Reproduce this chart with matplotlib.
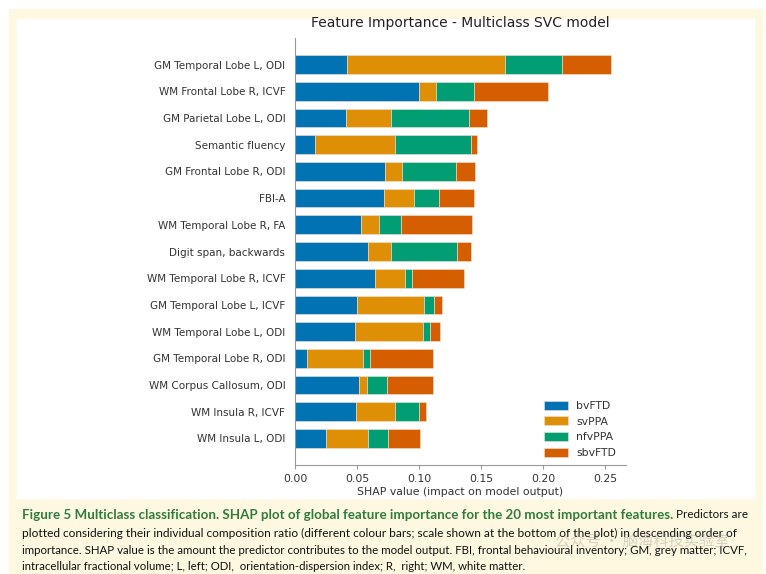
import matplotlib
matplotlib.use("Agg")
import matplotlib.pyplot as plt
from matplotlib.patches import Rectangle
import numpy as np

FEATURES = [
    "GM Temporal Lobe L, ODI",
    "WM Frontal Lobe R, ICVF",
    "GM Parietal Lobe L, ODI",
    "Semantic fluency",
    "GM Frontal Lobe R, ODI",
    "FBI-A",
    "WM Temporal Lobe R, FA",
    "Digit span, backwards",
    "WM Temporal Lobe R, ICVF",
    "GM Temporal Lobe L, ICVF",
    "WM Temporal Lobe L, ODI",
    "GM Temporal Lobe R, ODI",
    "WM Corpus Callosum, ODI",
    "WM Insula R, ICVF",
    "WM Insula L, ODI",
]
CLASSES = ["bvFTD", "svPPA", "nfvPPA", "sbvFTD"]
BVFTD = [0.042, 0.100, 0.0415, 0.016, 0.073, 0.072, 0.053, 0.0585, 0.0645, 0.050, 0.048, 0.010, 0.052, 0.049, 0.025]
SVPPA = [0.127, 0.014, 0.036, 0.065, 0.013, 0.024, 0.0145, 0.019, 0.024, 0.054, 0.055, 0.045, 0.0062, 0.032, 0.0337]
NFVPPA = [0.046, 0.030, 0.063, 0.061, 0.044, 0.0205, 0.018, 0.053, 0.0055, 0.008, 0.0062, 0.0057, 0.016, 0.0194, 0.0164]
SBVFTD = [0.040, 0.060, 0.0145, 0.005, 0.0155, 0.0275, 0.0575, 0.0115, 0.042, 0.0065, 0.0078, 0.051, 0.0375, 0.005, 0.0255]
COLORS = ["#0173b2", "#de8f05", "#029e73", "#d55e00"]
XTICKS = [0.00, 0.05, 0.10, 0.15, 0.20, 0.25]

CAPTION_BOLD = ("Figure 5 Multiclass classification. SHAP plot of global feature "
                "importance for the 20 most important features.")
CAPTION_LINES = [
    " Predictors are",
    "plotted considering their individual composition ratio (different colour bars; "
    "scale shown at the bottom of the plot) in descending order of",
    "importance. SHAP value is the amount the predictor contributes to the model output. "
    "FBI, frontal behavioural inventory; GM, grey matter; ICVF,",
    "intracellular fractional volume; L, left; ODI,  orientation-dispersion index; R,  "
    "right; WM, white matter.",
]
WATERMARK = "公众号 · 脑海科技实验室"

W, H = 766, 574
fig = plt.figure(figsize=(W / 100, H / 100), dpi=100)
fig.patch.set_facecolor("white")


def px_rect(x0, y0, x1, y1, color):
    fig.patches.append(Rectangle((x0 / W, 1 - y1 / H), (x1 - x0) / W, (y1 - y0) / H,
                                 transform=fig.transFigure, color=color, zorder=-10))


px_rect(9, 9, 762, 574, "#fff8e0")
px_rect(17, 19, 754, 498, "white")

ax = fig.add_axes([295 / W, 1 - 465 / H, (626 - 295) / W, (465 - 38) / H])
y = np.arange(len(FEATURES))[::-1]
left = np.zeros(len(FEATURES))
for name, vals, col in zip(CLASSES, [BVFTD, SVPPA, NFVPPA, SBVFTD], COLORS):
    ax.barh(y, vals, left=left, height=0.7, color=col, label=name,
            edgecolor="#f3e3d3", linewidth=0.4)
    left += np.array(vals)

ax.set_ylim(-1, len(FEATURES))
ax.set_xlim(0, 0.267)
ax.set_yticks(y)
ax.set_yticklabels(FEATURES, fontsize=7.5, color="#333333")
ax.set_xticks(XTICKS)
ax.set_xticklabels(["%.2f" % t for t in XTICKS], fontsize=7.8, color="#333333")
ax.tick_params(axis="y", length=0, pad=7)
ax.tick_params(axis="x", length=3, color="#999999", width=0.8)
for s in ["top", "right"]:
    ax.spines[s].set_visible(False)
for s in ["left", "bottom"]:
    ax.spines[s].set_color("#999999")
    ax.spines[s].set_linewidth(0.8)
ax.set_xlabel("SHAP value (impact on model output)", fontsize=7.8, color="#333333", labelpad=2)
ax.set_title("Feature Importance - Multiclass SVC model", fontsize=10, color="#222222", pad=8)
ax.legend(loc="lower right", bbox_to_anchor=(1.0, -0.006), frameon=False, fontsize=7.8,
          handlelength=2.2, handleheight=0.9, labelspacing=0.5, labelcolor="#333333")

# caption: each line is sized so that it ends where the reference line ends
fig.canvas.draw()
r = fig.canvas.get_renderer()
cap_font = ["Lato", "DejaVu Sans"]
x0 = 22


def fitted_text(x, yy, s, x_end, **kw):
    t = fig.text(x / W, 1 - yy / H, s, fontsize=9, family=cap_font, va="center", **kw)
    wd = t.get_window_extent(r).width
    t.set_fontsize(9 * (x_end - x) / wd)
    return t


t = fitted_text(x0, 515, CAPTION_BOLD, 668, fontweight="bold", color="#2e7d3e")
bx = t.get_window_extent(r).x1
fitted_text(bx, 515, CAPTION_LINES[0], 748, color="#111111")
fitted_text(x0, 533, CAPTION_LINES[1], 737, color="#111111")
fitted_text(x0, 550, CAPTION_LINES[2], 750, color="#111111")
fitted_text(x0, 567, CAPTION_LINES[3], 528, color="#111111")

fig.text(555 / W, 1 - 541 / H, WATERMARK, fontsize=11, color="#888888",
         alpha=0.35, family=["Noto Sans CJK SC", "DejaVu Sans"], va="center")

fig.savefig("out.png", dpi=100)
